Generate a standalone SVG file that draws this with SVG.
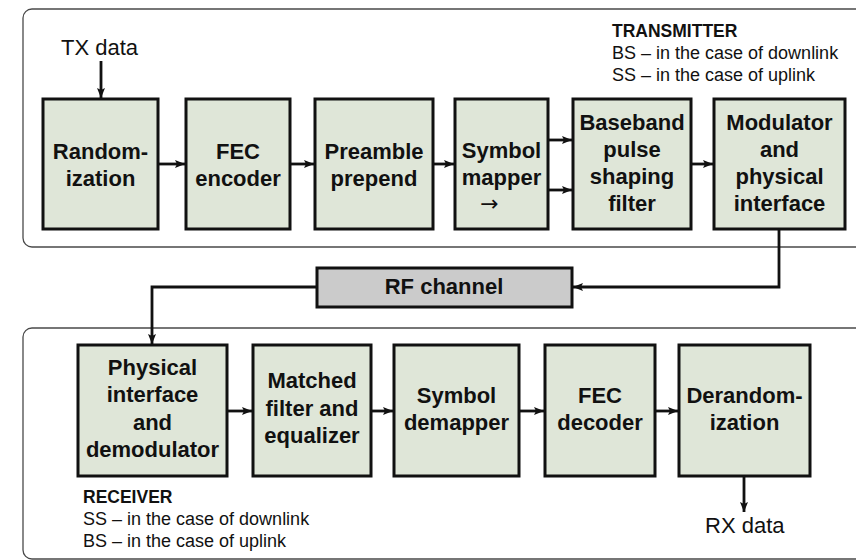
<svg xmlns="http://www.w3.org/2000/svg" width="856" height="560" viewBox="0 0 856 560">
<style>
.frame{fill:none;stroke:#4a4a4a;stroke-width:1.3}
.box{fill:#dfe6d8;stroke:#111;stroke-width:3}
.rf{fill:#cbcbcb;stroke:#111;stroke-width:3}
.bt{font-family:"Liberation Sans",Arial,sans-serif;font-weight:bold;font-size:22px;fill:#111;text-anchor:middle}
.nt{font-family:"Liberation Sans",Arial,sans-serif;font-size:22px;fill:#111}
.lt{font-family:"Liberation Sans",Arial,sans-serif;font-size:18px;fill:#111}
.lb{font-family:"Liberation Sans",Arial,sans-serif;font-size:17.5px;font-weight:bold;fill:#111}
.con{fill:none;stroke:#111;stroke-width:2.8;marker-end:url(#ah)}
</style>
<defs>
<marker id="ah" markerUnits="userSpaceOnUse" markerWidth="10" markerHeight="10" viewBox="0 0 10 10" refX="10" refY="5" orient="auto">
<path d="M0,1 L10,5 L0,9 L2,5 Z" fill="#111"/>
</marker>
</defs>
<rect class="frame" x="23" y="9" width="900" height="238" rx="9"/>
<rect class="frame" x="23" y="328" width="900" height="231" rx="9"/>
<g id="tx-label">
<text class="lb" x="612" y="37">TRANSMITTER</text>
<text class="lt" x="612" y="59">BS – in the case of downlink</text>
<text class="lt" x="612" y="81">SS – in the case of uplink</text>
</g>
<g id="rx-label">
<text class="lb" x="83" y="503">RECEIVER</text>
<text class="lt" x="83" y="525">SS – in the case of downlink</text>
<text class="lt" x="83" y="547">BS – in the case of uplink</text>
</g>
<g id="txdata"><text class="nt" x="61" y="55">TX data</text></g>
<g id="rxdata"><text class="nt" x="705" y="533">RX data</text></g>
<g id="randomization">
<rect class="box" x="43" y="99" width="115" height="130"/>
<text class="bt" x="100.5" y="159">Random-</text>
<text class="bt" x="100.5" y="186">ization</text>
</g>
<g id="fec-encoder">
<rect class="box" x="186" y="99" width="104" height="130"/>
<text class="bt" x="238" y="159">FEC</text>
<text class="bt" x="238" y="186">encoder</text>
</g>
<g id="preamble">
<rect class="box" x="315" y="99" width="118" height="130"/>
<text class="bt" x="374" y="159">Preamble</text>
<text class="bt" x="374" y="186">prepend</text>
</g>
<g id="symbol-mapper">
<rect class="box" x="455" y="99" width="93" height="130"/>
<text class="bt" x="501.5" y="158">Symbol</text>
<text class="bt" x="501.5" y="185">mapper</text>
<text x="489.5" y="211" text-anchor="middle" font-family="DejaVu Sans,sans-serif" font-size="22" fill="#111">→</text>
</g>
<g id="baseband">
<rect class="box" x="573" y="99" width="118" height="130"/>
<text class="bt" x="632" y="130">Baseband</text>
<text class="bt" x="632" y="157">pulse</text>
<text class="bt" x="632" y="184">shaping</text>
<text class="bt" x="632" y="211">filter</text>
</g>
<g id="modulator">
<rect class="box" x="714" y="99" width="131" height="130"/>
<text class="bt" x="779.5" y="130">Modulator</text>
<text class="bt" x="779.5" y="157">and</text>
<text class="bt" x="779.5" y="184">physical</text>
<text class="bt" x="779.5" y="211">interface</text>
</g>
<g id="rf-channel">
<rect class="rf" x="317" y="268" width="255" height="39"/>
<text class="bt" x="444" y="294">RF channel</text>
</g>
<g id="physical">
<rect class="box" x="78" y="345" width="149" height="131"/>
<text class="bt" x="152.5" y="375">Physical</text>
<text class="bt" x="152.5" y="402">interface</text>
<text class="bt" x="152.5" y="430">and</text>
<text class="bt" x="152.5" y="457">demodulator</text>
</g>
<g id="matched">
<rect class="box" x="253" y="345" width="118" height="131"/>
<text class="bt" x="312" y="388">Matched</text>
<text class="bt" x="312" y="416">filter and</text>
<text class="bt" x="312" y="443">equalizer</text>
</g>
<g id="symbol-demapper">
<rect class="box" x="394" y="345" width="125" height="131"/>
<text class="bt" x="456.5" y="403">Symbol</text>
<text class="bt" x="456.5" y="430">demapper</text>
</g>
<g id="fec-decoder">
<rect class="box" x="545" y="345" width="110" height="131"/>
<text class="bt" x="600" y="403">FEC</text>
<text class="bt" x="600" y="430">decoder</text>
</g>
<g id="derandomization">
<rect class="box" x="679" y="345" width="131" height="131"/>
<text class="bt" x="744.5" y="403">Derandom-</text>
<text class="bt" x="744.5" y="430">ization</text>
</g>
<g id="connectors">
<path class="con" d="M101,61 V98"/>
<path class="con" d="M158,164 H185"/>
<path class="con" d="M290,164 H314"/>
<path class="con" d="M433,164 H454"/>
<path class="con" d="M548,140 H572"/>
<path class="con" d="M548,190 H572"/>
<path class="con" d="M691,164 H713"/>
<path class="con" d="M779,230 V287 H573"/>
<path class="con" d="M317,287 H152 V344"/>
<path class="con" d="M227,411 H252"/>
<path class="con" d="M371,411 H393"/>
<path class="con" d="M519,411 H544"/>
<path class="con" d="M655,411 H678"/>
<path class="con" d="M744,476 V512"/>
</g>
</svg>
